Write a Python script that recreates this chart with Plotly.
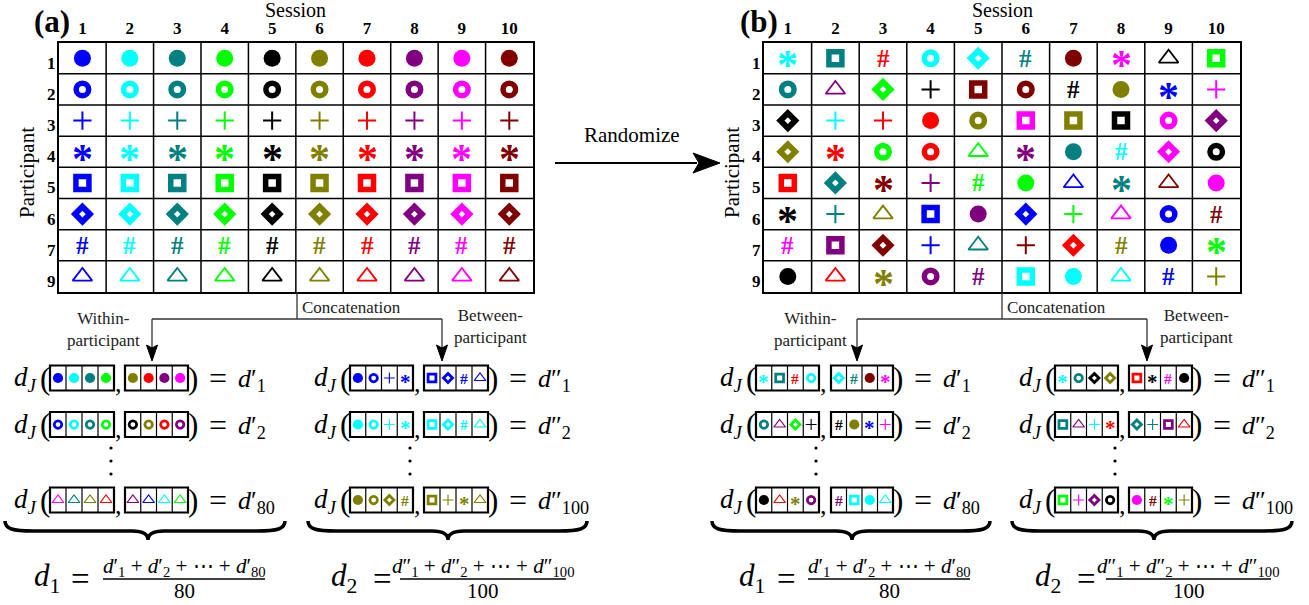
import plotly.graph_objects as go

W, H = 1309, 605

# ---------------- data ----------------
session_labels = [str(i) for i in range(1, 11)]
participant_labels = ['1', '2', '3', '4', '5', '6', '7', '9']

session_colors = ['bl', 'cy', 'te', 'gr', 'bk', 'ol', 're', 'pu', 'ma', 'mr']
palette = {'bl': '#0000FF', 'cy': '#00FFFF', 'te': '#008080', 'gr': '#00FF00', 'bk': '#000000',
           'ol': '#808000', 're': '#FF0000', 'pu': '#800080', 'ma': '#FF00FF', 'mr': '#800000'}
# o filled circle, r ring, + plus, * asterisk, s square, d diamond, # hash, ^ triangle
participant_symbols = ['o', 'r', '+', '*', 's', 'd', '#', '^']

grid_a = [[s + c for c in session_colors] for s in participant_symbols]

grid_b = [
    ['*cy', 'ste', '#re', 'rcy', 'dcy', '#te', 'omr', '*ma', '^bk', 'sgr'],
    ['rte', '^pu', 'dgr', '+bk', 'smr', 'rmr', '#bk', 'ool', '*bl', '+ma'],
    ['dbk', '+cy', '+re', 'ore', 'rol', 'sma', 'sol', 'sbk', 'rma', 'dpu'],
    ['dol', '*re', 'rgr', 'rre', '^gr', '*pu', 'ote', '#cy', 'dma', 'rbk'],
    ['sre', 'dte', '*mr', '+pu', '#gr', 'ogr', '^bl', '*te', '^mr', 'oma'],
    ['*bk', '+te', '^ol', 'sbl', 'opu', 'dbl', '+gr', '^ma', 'rbl', '#mr'],
    ['#ma', 'spu', 'dmr', '+bl', '^te', '+mr', 'dre', '#ol', 'obl', '*gr'],
    ['obk', '^re', '*ol', 'rpu', '#pu', 'scy', 'ocy', '^cy', '#bl', '+ol'],
]

eq_a_within = [
    ['obl', 'ocy', 'ote', 'ogr', 'ool', 'ore', 'opu', 'oma'],
    ['rbl', 'rcy', 'rte', 'rgr', 'rbk', 'rol', 'rre', 'rpu'],
    ['^ma', '^te', '^ol', '^re', '^pu', '^bl', '^cy', '^gr'],
]
eq_a_between = [
    ['obl', 'rbl', '+bl', '*bl', 'sbl', 'dbl', '#bl', '^bl'],
    ['ocy', 'rcy', '+cy', '*cy', 'scy', 'dcy', '#cy', '^cy'],
    ['ool', 'rol', 'dol', '#ol', 'sol', '+ol', '*ol', '^ol'],
]
eq_b_within = [
    ['*cy', 'ste', '#re', 'rcy', 'dcy', '#te', 'omr', '*ma'],
    ['rte', '^pu', 'dgr', '+bk', '#bk', 'ool', '*bl', '+ma'],
    ['obk', '^re', '*ol', 'rpu', '#pu', 'scy', 'ocy', '^cy'],
]
eq_b_between = [
    ['*cy', 'rte', 'dbk', 'dol', 'sre', '*bk', '#ma', 'obk'],
    ['ste', '^pu', '+cy', '*re', 'dte', '+te', 'spu', '^re'],
    ['sgr', '+ma', 'dpu', 'rbk', 'oma', '#mr', '*gr', '+ol'],
]
within_subs = ['1', '2', '80']
between_subs = ['1', '2', '100']

# ---------------- styles ----------------
MARK = {
    'o': dict(symbol='circle', size=17, lw=0),
    'r': dict(symbol='circle-open', size=12.5, lw=5.5),
    '+': dict(symbol='cross-thin-open', size=13, lw=2),
    's': dict(symbol='square-open', size=13, lw=5.5),
    'd': dict(symbol='diamond-open', size=11.5, lw=5.8),
    '^': dict(symbol='triangle-up-open', size=17, lw=1.8),
}
# glyph, font family, size, weight, vertical shift (fraction of size), size factor inside the small boxes
GLYPH = {'*': ('*', 'Liberation Serif', 42, 'bold', -0.17, 0.5),
         '#': ('#', 'Liberation Serif', 25, 'bold', 0.0, 0.62)}
SERIF = 'Liberation Serif, Times New Roman, serif'

fig = go.Figure()
shapes = []
annotations = []


def add_symbols(xs, ys, codes, xa, ya, scale=1.0, lwscale=1.0, lwmin=0, mini=False):
    for shp, m in MARK.items():
        idx = [i for i, c in enumerate(codes) if c[0] == shp]
        if not idx:
            continue
        cols = [palette[codes[i][1:]] for i in idx]
        lw = max(m['lw'] * lwscale, lwmin) if m['lw'] > 0 else 0
        fig.add_trace(go.Scatter(
            x=[xs[i] for i in idx], y=[ys[i] for i in idx], mode='markers',
            xaxis=xa, yaxis=ya, hoverinfo='skip', showlegend=False,
            marker=dict(symbol=m['symbol'], size=m['size'] * scale, color=cols,
                        line=dict(width=lw, color=cols))))
    for i, c in enumerate(codes):
        if c[0] not in GLYPH:
            continue
        ch, fam, sz, wt, sh, mf = GLYPH[c[0]]
        fs = sz * (mf if mini else 1.0)
        annotations.append(dict(xref=xa, yref=ya, x=xs[i], y=ys[i], text=ch, showarrow=False,
                                xanchor='center', yanchor='middle', yshift=sh * fs,
                                font=dict(family=fam, size=fs, color=palette[c[1:]], weight=wt)))


# ---------------- grids ----------------
grids = [
    dict(data=grid_a, xa='x2', ya='y2', x0=58.7, x1=533, label='(a)', labx=52, partx=27),
    dict(data=grid_b, xa='x3', ya='y3', x0=764, x1=1240, label='(b)', labx=759, partx=732),
]
GY0, GY1 = 42.7, 292
axis_layout = {}

for gi, g in enumerate(grids):
    xs, ys, codes = [], [], []
    for r, row in enumerate(g['data']):
        for c, code in enumerate(row):
            xs.append(c + 1)
            ys.append(r + 1)
            codes.append(code)
    add_symbols(xs, ys, codes, g['xa'], g['ya'])
    n = str(gi + 2)
    axis_layout['xaxis' + n] = dict(
        domain=[g['x0'] / W, g['x1'] / W], range=[0.5, len(session_labels) + 0.5], anchor='y' + n,
        side='top', tickmode='array', tickvals=list(range(1, len(session_labels) + 1)),
        ticktext=session_labels, ticks='', showgrid=False, zeroline=False,
        showline=True, mirror=True, linecolor='black', linewidth=2, fixedrange=True,
        tickfont=dict(family=SERIF, size=17, color='black', weight='bold'))
    axis_layout['yaxis' + n] = dict(
        domain=[1 - GY1 / H, 1 - GY0 / H], range=[len(participant_labels) + 0.5, 0.5], anchor='x' + n,
        showticklabels=False, ticks='', showgrid=False, zeroline=False,
        showline=True, mirror=True, linecolor='black', linewidth=2, fixedrange=True)
    for k in range(1, len(session_labels)):
        shapes.append(dict(type='line', xref=g['xa'], yref=g['ya'], x0=k + 0.5, x1=k + 0.5,
                           y0=0.5, y1=len(participant_labels) + 0.5, line=dict(color='black', width=1.5)))
    for k in range(1, len(participant_labels)):
        shapes.append(dict(type='line', xref=g['xa'], yref=g['ya'], y0=k + 0.5, y1=k + 0.5,
                           x0=0.5, x1=len(session_labels) + 0.5, line=dict(color='black', width=1.5)))
    for r, lab in enumerate(participant_labels):
        annotations.append(dict(xref=g['xa'], yref=g['ya'], x=0.5, y=r + 1, text=lab, showarrow=False,
                                xanchor='right', yanchor='middle', xshift=-1, yshift=-5,
                                font=dict(family=SERIF, size=17, color='black', weight='bold')))
    cx = (g['x0'] + g['x1']) / 2
    annotations.append(dict(xref='x', yref='y', x=cx, y=10, text='Session', showarrow=False,
                            font=dict(family=SERIF, size=20, color='black')))
    annotations.append(dict(xref='x', yref='y', x=g['labx'], y=21, text='<b>' + g['label'] + '</b>',
                            showarrow=False, font=dict(family=SERIF, size=31, color='black')))
    annotations.append(dict(xref='x', yref='y', x=g['partx'], y=173, text='Participant', textangle=-90,
                            showarrow=False, font=dict(family=SERIF, size=21, color='black')))

# Randomize arrow
annotations.append(dict(xref='x', yref='y', x=632, y=135, text='Randomize', showarrow=False,
                        font=dict(family=SERIF, size=21, color='black')))
shapes.append(dict(type='line', xref='x', yref='y', x0=555, x1=697, y0=163, y1=163,
                   line=dict(color='black', width=2)))
shapes.append(dict(type='path', xref='x', yref='y', path='M 720,163 L 693,153 L 699,163 L 693,173 Z',
                   fillcolor='black', line=dict(color='black', width=1)))

# ---------------- concatenation connectors ----------------
connectors = [dict(stem=297, left=152, right=442, within_x=103, between_x=490),
              dict(stem=1002, left=857, right=1147, within_x=810, between_x=1196)]
for cn in connectors:
    lc = dict(color='#333333', width=1.3)
    shapes.append(dict(type='line', xref='x', yref='y', x0=cn['stem'], x1=cn['stem'], y0=GY1, y1=319, line=lc))
    shapes.append(dict(type='line', xref='x', yref='y', x0=cn['left'], x1=cn['right'], y0=319, y1=319, line=lc))
    for ax in (cn['left'], cn['right']):
        shapes.append(dict(type='line', xref='x', yref='y', x0=ax, x1=ax, y0=319, y1=348, line=lc))
        shapes.append(dict(type='path', xref='x', yref='y',
                           path=f'M {ax},361 L {ax - 5.5},345 L {ax},348 L {ax + 5.5},345 Z',
                           fillcolor='black', line=dict(color='black', width=1)))
    annotations.append(dict(xref='x', yref='y', x=cn['stem'] + 3, y=307, text='Concatenation', showarrow=False,
                            xanchor='left', font=dict(family=SERIF, size=17, color='#222222')))
    annotations.append(dict(xref='x', yref='y', x=cn['within_x'], y=329, text='Within-<br>participant',
                            showarrow=False, font=dict(family=SERIF, size=17, color='#222222')))
    annotations.append(dict(xref='x', yref='y', x=cn['between_x'], y=326, text='Between-<br>participant',
                            showarrow=False, font=dict(family=SERIF, size=17, color='#222222')))

# ---------------- equation blocks ----------------
row_y = [378, 424.5, 500]
blocks = [
    dict(rows=eq_a_within, subs=within_subs, prime='′', b1=(50, 114), b2=(125, 188),
         brace=(5, 285, 148), dk='1', eqd=32, eqc=80, frac=(103, 265), total='80'),
    dict(rows=eq_a_between, subs=between_subs, prime='″', b1=(350, 413), b2=(424, 488),
         brace=(308, 587, 448), dk='2', eqd=329, eqc=382, frac=(400, 566), total='100'),
    dict(rows=eq_b_within, subs=within_subs, prime='′', b1=(756, 819), b2=(831, 893),
         brace=(712, 990, 852), dk='1', eqd=737, eqc=786, frac=(808, 970), total='80'),
    dict(rows=eq_b_between, subs=between_subs, prime='″', b1=(1055, 1118), b2=(1129, 1192),
         brace=(1012, 1292, 1154), dk='2', eqd=1033, eqc=1086, frac=(1106, 1271), total='100'),
]
BOX_H = 25
mx, my, mcodes = [], [], []
for b in blocks:
    for r, seq in enumerate(b['rows']):
        yc = row_y[r]
        for bi, (x0, x1) in enumerate((b['b1'], b['b2'])):
            cw = (x1 - x0) / 4
            shapes.append(dict(type='rect', xref='x', yref='y', x0=x0, x1=x1, y0=yc - BOX_H / 2,
                               y1=yc + BOX_H / 2, line=dict(color='black', width=2.2)))
            for k in range(1, 4):
                shapes.append(dict(type='line', xref='x', yref='y', x0=x0 + k * cw, x1=x0 + k * cw,
                                   y0=yc - BOX_H / 2, y1=yc + BOX_H / 2, line=dict(color='black', width=1.2)))
            for k in range(4):
                mx.append(x0 + (k + 0.5) * cw)
                my.append(yc)
                mcodes.append(seq[bi * 4 + k])
        b1x0, b1x1 = b['b1']
        b2x1 = b['b2'][1]
        mf = dict(family=SERIF, color='black')
        annotations += [
            dict(xref='x', yref='y', x=b1x0 - 38, y=yc + 1, xanchor='left', yanchor='middle', showarrow=False,
                 text='<i>d</i><sub><i>J</i></sub>', font=dict(size=27, **mf)),
            dict(xref='x', yref='y', x=b1x0 - 5, y=yc, xanchor='center', yanchor='middle', showarrow=False,
                 text='(', font=dict(size=31, **mf)),
            dict(xref='x', yref='y', x=b1x1 + 4, y=yc + 5, xanchor='center', yanchor='middle', showarrow=False,
                 text=',', font=dict(size=26, **mf)),
            dict(xref='x', yref='y', x=b2x1 + 5, y=yc, xanchor='center', yanchor='middle', showarrow=False,
                 text=')', font=dict(size=31, **mf)),
            dict(xref='x', yref='y', x=b2x1 + 30, y=yc, xanchor='center', yanchor='middle', showarrow=False,
                 text='=', font=dict(size=32, **mf)),
            dict(xref='x', yref='y', x=b2x1 + 48, y=yc + 2, xanchor='left', yanchor='middle', showarrow=False,
                 text='<i>d</i>' + b['prime'] + '<sub>' + b['subs'][r] + '</sub>', font=dict(size=26, **mf)),
        ]
    # vertical dots
    for dy in (448, 461, 474):
        dxc = b['b1'][1] - 3
        shapes.append(dict(type='circle', xref='x', yref='y', x0=dxc - 1.6, x1=dxc + 1.6, y0=dy - 1.6,
                           y1=dy + 1.6, fillcolor='black', line=dict(width=0)))
    # brace
    x0, x1, tx = b['brace']
    path = (f'M {x0},521 C {x0},529 {x0 + 8},531 {x0 + 28},531 L {tx - 16},531 '
            f'C {tx - 5},531 {tx},534 {tx},540 C {tx},534 {tx + 5},531 {tx + 16},531 '
            f'L {x1 - 28},531 C {x1 - 8},531 {x1},529 {x1},521')
    shapes.append(dict(type='path', xref='x', yref='y', path=path, line=dict(color='black', width=3.5)))
    # final average formula
    fx0, fx1 = b['frac']
    fc = (fx0 + fx1) / 2
    p = b['prime']
    terms = [f'<i>d</i>{p}<sub>1</sub>', f'<i>d</i>{p}<sub>2</sub>', '⋯', f'<i>d</i>{p}<sub>{b["total"]}</sub>']
    annotations += [
        dict(xref='x', yref='y', x=b['eqd'], y=578, xanchor='left', yanchor='middle', showarrow=False,
             text=f'<i>d</i><sub>{b["dk"]}</sub>', font=dict(family=SERIF, size=31, color='black')),
        dict(xref='x', yref='y', x=b['eqc'], y=579, xanchor='center', yanchor='middle', showarrow=False,
             text='=', font=dict(family=SERIF, size=33, color='black')),
        dict(xref='x', yref='y', x=fc, y=567, xanchor='center', yanchor='middle', showarrow=False,
             text=' + '.join(terms), font=dict(family=SERIF, size=21, color='black')),
        dict(xref='x', yref='y', x=fc, y=591, xanchor='center', yanchor='middle', showarrow=False,
             text=b['total'], font=dict(family=SERIF, size=21, color='black')),
    ]
    shapes.append(dict(type='line', xref='x', yref='y', x0=fx0, x1=fx1, y0=579, y1=579,
                       line=dict(color='black', width=1.5)))

add_symbols(mx, my, mcodes, 'x', 'y', scale=0.6, lwscale=0.5, lwmin=1.1, mini=True)

fig.update_layout(
    width=W, height=H, margin=dict(l=0, r=0, t=0, b=0),
    paper_bgcolor='white', plot_bgcolor='white', showlegend=False,
    xaxis=dict(domain=[0, 1], range=[0, W], visible=False, fixedrange=True),
    yaxis=dict(domain=[0, 1], range=[H, 0], visible=False, fixedrange=True),
    shapes=shapes, annotations=annotations, **axis_layout)

fig.write_html('out.html', config=dict(displayModeBar=False),
               post_script="document.body.style.margin='0';document.body.style.padding='0';")
